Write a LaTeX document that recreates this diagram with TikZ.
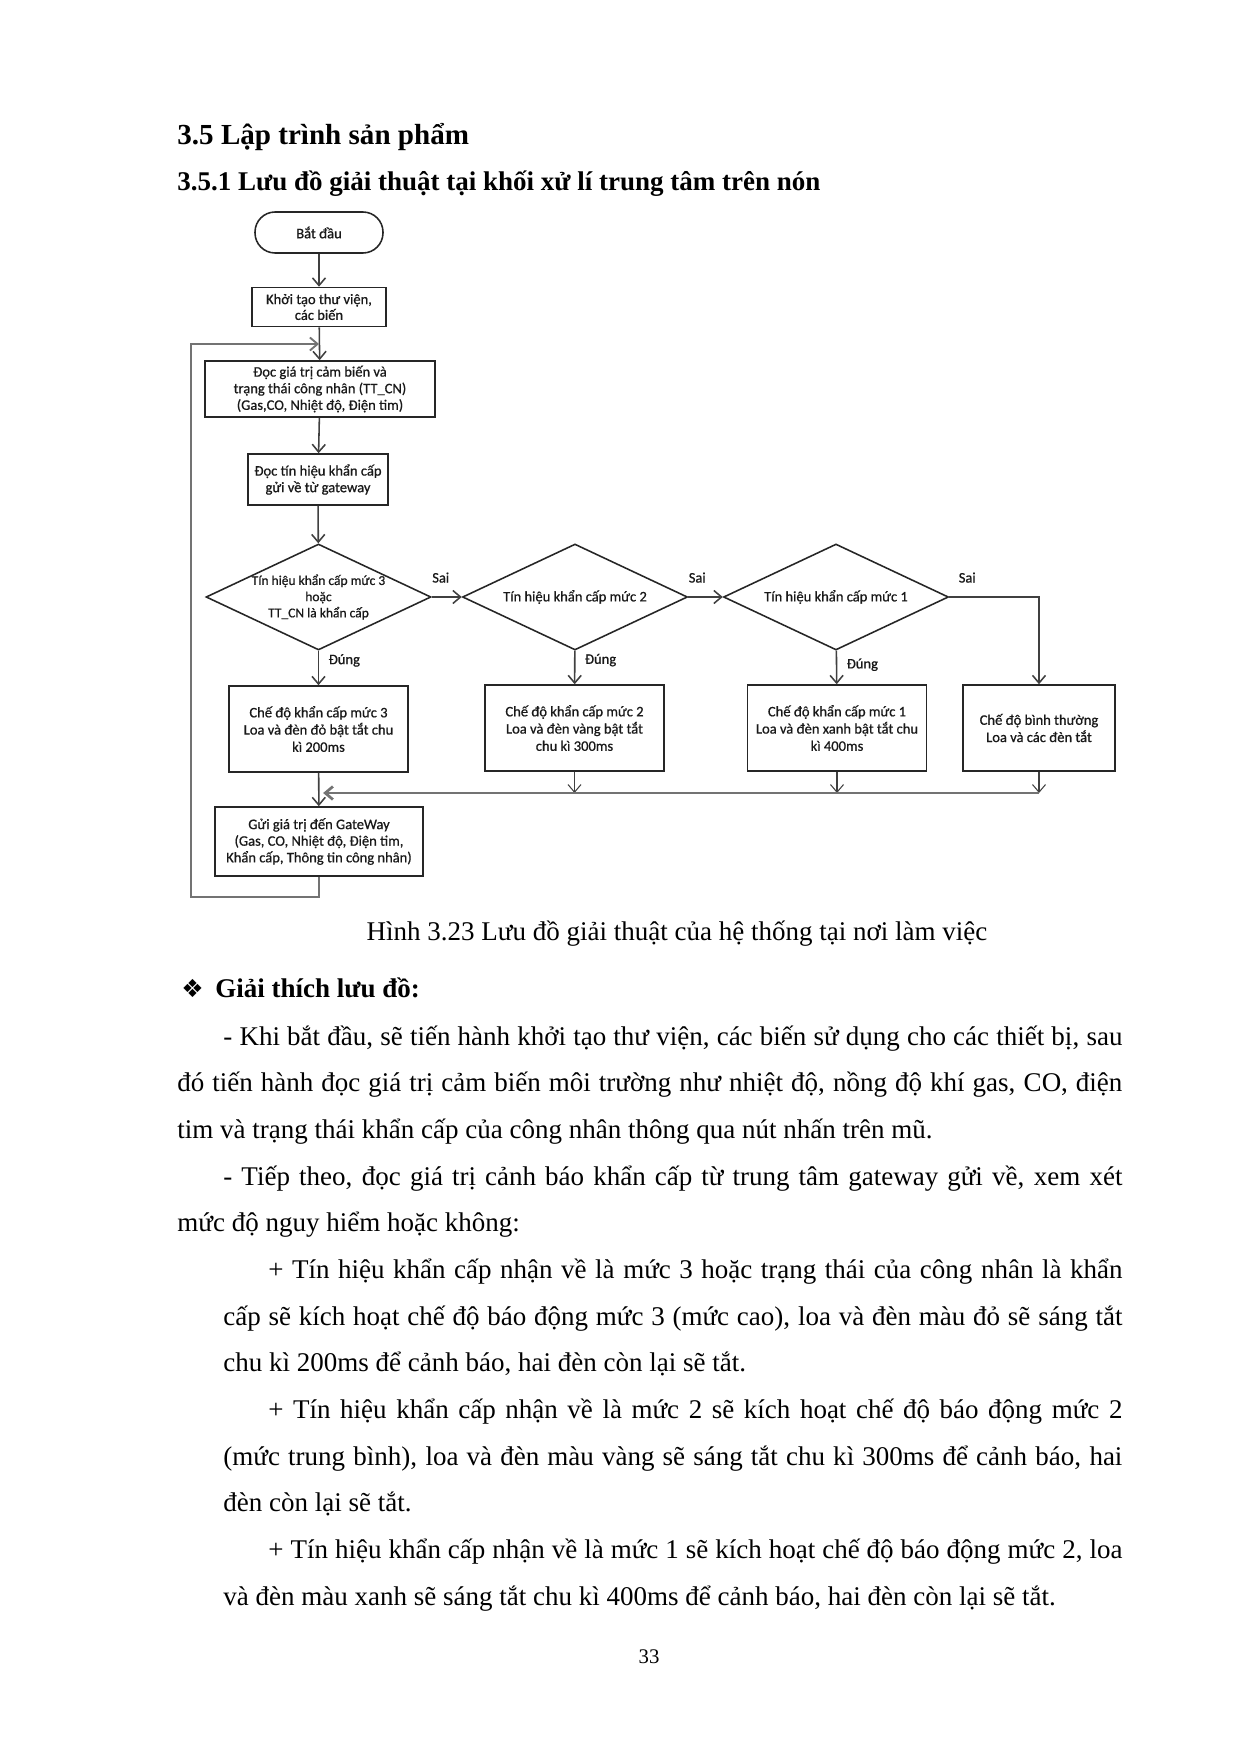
\documentclass[tikz,border=0pt]{standalone}
\usepackage{fontspec}
\setmainfont{Liberation Serif}
\newfontfamily\chartfont{Carlito}[FakeBold=0.7]
\newfontfamily\symfont{DejaVu Sans}
\usetikzlibrary{shapes.geometric,arrows.meta}
\newcommand{\bodypar}[2]{\parbox[t]{#1}{\fontsize{13pt}{22.48pt}\selectfont\tolerance=9999\relax #2}}

\begin{document}
\begin{tikzpicture}[x=0.169218mm, y=-0.169218mm,
        chart/.style={font=\chartfont\fontsize{7pt}{8pt}\selectfont, align=center, text=black!90, inner sep=1pt},
        termbox/.style={chart, draw=chartbox, line width=0.75pt, rounded corners=3.4mm, minimum width=21.66mm, minimum height=6.94mm},
        procbox/.style={chart, draw=chartbox, line width=0.75pt},
        decbox/.style={chart, diamond, draw=chartbox, line width=0.75pt, aspect=2.12, inner sep=-3pt, minimum width=38.07mm, minimum height=17.94mm},
        lbl/.style={font=\chartfont\fontsize{7pt}{8pt}\selectfont, text=black!90, inner sep=0pt},
        flow/.style={draw=chartline, line width=0.75pt, -{Straight Barb[length=1.3mm,width=2.2mm]}},
        merge/.style={draw=chartgray, line width=1.3pt},
        loopln/.style={draw=chartgray, line width=0.9pt},
        body/.style={inner sep=0pt, anchor=base west}]

    \colorlet{chartbox}{black!85}
    \colorlet{chartline}{black!75}
    \colorlet{chartgray}{black!55}

    \useasboundingbox[fill=white] (0,0) rectangle (1241,1755);

    % headings
    \node[anchor=base west, inner sep=0pt, font=\bfseries\fontsize{14pt}{16pt}\selectfont] (head1) at (177,145) {3.5 Lập trình sản phẩm};
    \node[anchor=base west, inner sep=0pt, font=\bfseries\fontsize{13pt}{16pt}\selectfont] (head2) at (177,190.5) {3.5.1 Lưu đồ giải thuật tại khối xử lí trung tâm trên nón};

    % flowchart
    \node[termbox] (start) at (319,232.5) {Bắt đầu};
    \node[procbox, minimum width=22.68mm, minimum height=6.6mm, font=\chartfont\fontsize{7pt}{7.6pt}\selectfont] (init) at (319,307) {Khởi tạo thư viện,\\các biến};
    \node[procbox, minimum width=38.92mm, minimum height=9.48mm] (readsens) at (320,389) {Đọc giá trị cảm biến và\\trạng thái công nhân (TT\_CN)\\(Gas,CO, Nhiệt độ, Điện tim)};
    \node[procbox, minimum width=23.69mm, minimum height=8.63mm] (readsig) at (318,479.5) {Đọc tín hiệu khẩn cấp\\gửi về từ gateway};

    \node[decbox, font=\chartfont\fontsize{6.5pt}{7.8pt}\selectfont] (dec3) at (318.5,597) {Tín hiệu khẩn cấp mức 3\\hoặc\\TT\_CN là khẩn cấp};
    \node[decbox] (dec2) at (575,597) {Tín hiệu khẩn cấp mức 2};
    \node[decbox] (dec1) at (836,597) {Tín hiệu khẩn cấp mức 1};

    \begin{scope}[every node/.style={procbox, minimum width=30.29mm, minimum height=14.55mm, font=\chartfont\fontsize{7pt}{8.3pt}\selectfont}]
        \node (mode3) at (318.5,729) {Chế độ khẩn cấp mức 3\\Loa và đèn đỏ bật tắt chu\\kì 200ms};
        \node (mode2) at (574.5,728) {Chế độ khẩn cấp mức 2\\Loa và đèn vàng bật tắt\\chu kì 300ms};
        \node (mode1) at (837,728) {Chế độ khẩn cấp mức 1\\Loa và đèn xanh bật tắt chu\\kì 400ms};
        \node[minimum width=25.72mm] (mode0) at (1039,728) {Chế độ bình thường\\Loa và các đèn tắt};
    \end{scope}

    \node[procbox, minimum width=35.2mm, minimum height=11.68mm] (send) at (319,841.5) {Gửi giá trị đến GateWay\\(Gas, CO, Nhiệt độ, Điện tim,\\Khẩn cấp, Thông tin công nhân)};

    \coordinate (join) at (319,344);
    \coordinate (loopbot) at (191,897);
    \coordinate (mergeend) at (319,793);

    \draw[flow] (start) -- (init);
    \draw[flow] (init) -- (readsens);
    \draw[flow] (readsens) -- (readsig);
    \draw[flow] (readsig) -- (dec3);

    \draw[flow] (dec3) -- node[lbl, above=2.3mm, pos=0.3] {Sai} (dec2);
    \draw[flow] (dec2) -- node[lbl, above=2.3mm, pos=0.26] {Sai} (dec1);
    \draw[flow] (dec1) -| node[lbl, above=2.3mm, pos=0.1] {Sai} (mode0);

    \draw[flow] (dec3) -- node[lbl, right=1.6mm, pos=0.28] {Đúng} (mode3);
    \draw[flow] (dec2) -- node[lbl, right=1.6mm, pos=0.28] {Đúng} (mode2);
    \draw[flow] (dec1) -- node[lbl, right=1.6mm, pos=0.42] {Đúng} (mode1);

    \draw[flow] (mode3) -- (send);
    \foreach \m in {mode2,mode1,mode0}
        \draw[flow, line width=0.5pt] (\m.south) -- (\m.south |- mergeend);
    \draw[merge, -{Straight Barb[length=1.3mm,width=2.2mm]}] (mode0.south |- mergeend) -- ([xshift=0.7mm]mergeend);

    \draw[loopln, -{Straight Barb[length=1.3mm,width=2.2mm]}] (send.south) |- (loopbot) |- (join);

    % caption and text
    \node[anchor=base, inner sep=0pt, font=\fontsize{13pt}{16pt}\selectfont] (caption) at (677,940) {Hình 3.23 Lưu đồ giải thuật của hệ thống tại nơi làm việc};

    \node[anchor=base west, inner sep=0pt, font=\symfont\fontsize{12pt}{14pt}\selectfont] (bullet) at (181,997) {❖};
    \node[anchor=base west, inner sep=0pt, font=\bfseries\fontsize{13pt}{16pt}\selectfont] (explain) at (215,997) {Giải thích lưu đồ:};

    \node[body] (para1) at (177,1045) {\bodypar{159.91mm}{\hspace*{7.78mm}- Khi bắt đầu, sẽ tiến hành khởi tạo thư viện, các biến sử dụng cho các thiết bị, sau\linebreak
        đó tiến hành đọc giá trị cảm biến môi trường như nhiệt độ, nồng độ khí gas, CO, điện\linebreak
        tim và trạng thái khẩn cấp của công nhân thông qua nút nhấn trên mũ.}};
    \node[body] (para2) at (177,1185.1) {\bodypar{159.91mm}{\hspace*{7.78mm}- Tiếp theo, đọc giá trị cảnh báo khẩn cấp từ trung tâm gateway gửi về, xem xét\linebreak
        mức độ nguy hiểm hoặc không:}};
    \node[body] (para3) at (223,1278.5) {\bodypar{152.13mm}{\hspace*{7.61mm}+ Tín hiệu khẩn cấp nhận về là mức 3 hoặc trạng thái của công nhân là khẩn\linebreak
        cấp sẽ kích hoạt chế độ báo động mức 3 (mức cao), loa và đèn màu đỏ sẽ sáng tắt\linebreak
        chu kì 200ms để cảnh báo, hai đèn còn lại sẽ tắt.}};
    \node[body] (para4) at (223,1418.6) {\bodypar{152.13mm}{\hspace*{7.61mm}+ Tín hiệu khẩn cấp nhận về là mức 2 sẽ kích hoạt chế độ báo động mức 2\linebreak
        (mức trung bình), loa và đèn màu vàng sẽ sáng tắt chu kì 300ms để cảnh báo, hai\linebreak
        đèn còn lại sẽ tắt.}};
    \node[body] (para5) at (223,1558.7) {\bodypar{152.13mm}{\hspace*{7.61mm}+ Tín hiệu khẩn cấp nhận về là mức 1 sẽ kích hoạt chế độ báo động mức 2, loa\linebreak
        và đèn màu xanh sẽ sáng tắt chu kì 400ms để cảnh báo, hai đèn còn lại sẽ tắt.}};

    \node[anchor=base, inner sep=0pt, font=\fontsize{10pt}{12pt}\selectfont] (pagenum) at (649,1663) {33};
\end{tikzpicture}
\end{document}
